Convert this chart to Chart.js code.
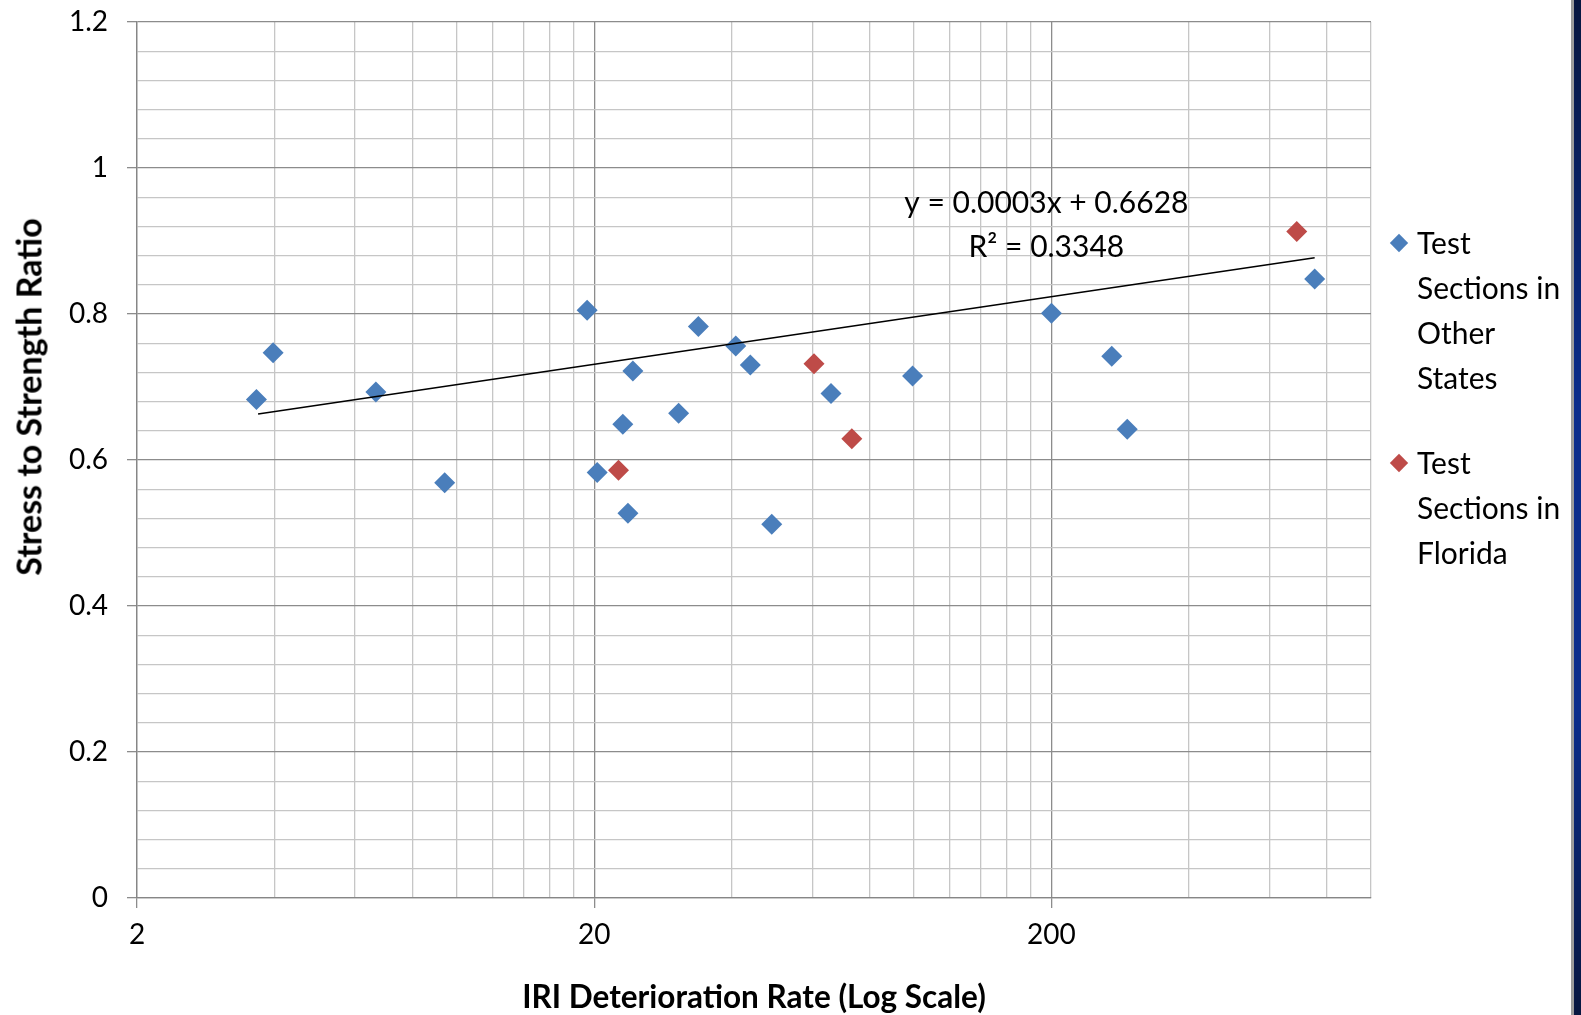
<!DOCTYPE html>
<html>
<head>
<meta charset="utf-8">
<script src="https://cdn.jsdelivr.net/npm/chart.js@4.4.1/dist/chart.umd.min.js"></script>
<style>
body { margin: 0; background: #fff; overflow: hidden; font-family: Lato, sans-serif; }
#wrap { position: relative; width: 1581px; height: 1015px; }
#ytitle { position: absolute; left: 28px; top: 397px; transform: translate(-50%, -50%) rotate(-90deg); font: bold 34px Lato; white-space: nowrap; color: #000; }
.leg { position: absolute; left: 1417px; font: 30px Lato; line-height: 45px; color: #000; }
.dia { position: absolute; width: 13px; height: 13px; transform: translate(-50%, -50%) rotate(45deg); }
#edge { position: absolute; left: 1571px; top: 0; width: 3px; height: 1015px; background: #9a9a9a; }
#navy { position: absolute; left: 1574px; top: 0; width: 7px; height: 1015px; background: linear-gradient(#07163f, #0b2d8c 40%, #0b2d8c 70%, #07163f); }
</style>
</head>
<body>
<div id="wrap">
<canvas id="myChart" width="1581" height="1015"></canvas>
<div id="ytitle">Stress to Strength Ratio</div>
<div class="dia" style="left:1399px;top:243px;background:#4a7ebb"></div>
<div class="leg" style="top:220px">Test<br>Sections in<br>Other<br>States</div>
<div class="dia" style="left:1399px;top:463px;background:#be4b48"></div>
<div class="leg" style="top:440px">Test<br>Sections in<br>Florida</div>
<div id="edge"></div>
<div id="navy"></div>
</div>
<script>
/* Data: Test Sections in Other States */
var otherX = [3.65, 3.97, 6.66, 9.42, 19.3, 20.3, 23.1, 23.7, 24.3, 30.6, 33.8, 40.8, 43.9, 48.9, 65.9, 99.4, 200, 271, 293, 753];
var otherY = [0.683, 0.747, 0.693, 0.569, 0.805, 0.583, 0.649, 0.527, 0.722, 0.664, 0.783, 0.756, 0.730, 0.512, 0.691, 0.715, 0.801, 0.742, 0.642, 0.848];
/* Data: Test Sections in Florida */
var floridaX = [22.6, 60.5, 73.2, 688];
var floridaY = [0.586, 0.732, 0.629, 0.913];
/* Trendline end points */
var trendX = [3.68, 753];
var trendY = [0.663, 0.877];
/* Axis ticks */
var xMajor = [2, 20, 200];
var xGrid = [2, 4, 6, 8, 10, 12, 14, 16, 18, 20, 40, 60, 80, 100, 120, 140, 160, 180, 200, 400, 600, 800, 1000];
var yLabels = [0, 0.2, 0.4, 0.6, 0.8, 1, 1.2];
var yMinorStep = 0.04;
var eqText = ['y = 0.0003x + 0.6628', 'R\u00b2 = 0.3348'];
/* End Data */

function toPoints(xs, ys) {
    var pts = [];
    for (let i = 0; i < xs.length; i++) {
        pts.push({x: xs[i], y: ys[i]});
    }
    return pts;
}

function isYMajor(v) {
    for (let i = 0; i < yLabels.length; i++) {
        if (Math.abs(yLabels[i] - v) < 1e-6) return true;
    }
    return false;
}

var gridMinor = '#c6c6c6';
var gridMajor = '#8c8c8c';

/* Equation label */
var equationPlugin = {
    id: 'equation',
    afterDatasetsDraw: function(chart) {
        var ctx = chart.ctx;
        var xs = chart.scales.x;
        var ys = chart.scales.y;
        ctx.save();
        ctx.font = '30px Lato';
        ctx.fillStyle = '#000';
        ctx.textAlign = 'center';
        ctx.textBaseline = 'alphabetic';
        ctx.fillText(eqText[0], xs.getPixelForValue(195), ys.getPixelForValue(0.938));
        ctx.fillText(eqText[1], xs.getPixelForValue(195), ys.getPixelForValue(0.878));
        ctx.restore();
    }
};

const config = {
    type: 'scatter',
    data: {
        datasets: [
            {
                label: 'Linear (Test Sections)',
                data: toPoints(trendX, trendY),
                showLine: true,
                borderColor: '#000',
                borderWidth: 1.5,
                pointRadius: 0
            },
            {
                label: 'Test Sections in Other States',
                data: toPoints(otherX, otherY),
                pointStyle: 'rectRot',
                pointRadius: 10.5,
                backgroundColor: '#4a7ebb',
                borderColor: '#4a7ebb',
                borderWidth: 0
            },
            {
                label: 'Test Sections in Florida',
                data: toPoints(floridaX, floridaY),
                pointStyle: 'rectRot',
                pointRadius: 10.5,
                backgroundColor: '#be4b48',
                borderColor: '#be4b48',
                borderWidth: 0
            }
        ]
    },
    options: {
        responsive: false,
        animation: false,
        devicePixelRatio: 1,
        layout: { padding: { left: 0, right: 210, top: 22, bottom: 0 } },
        plugins: {
            legend: { display: false },
            tooltip: { enabled: false }
        },
        scales: {
            x: {
                type: 'logarithmic',
                min: 2,
                max: 1000,
                afterBuildTicks: function(scale) {
                    scale.ticks = xGrid.map(function(v) { return {value: v}; });
                },
                afterFit: function(scale) { scale.height = 117; },
                ticks: {
                    autoSkip: false,
                    maxRotation: 0,
                    padding: 10,
                    color: '#000',
                    font: { family: 'Lato', size: 28 },
                    callback: function(v) { return xMajor.indexOf(v) >= 0 ? String(v) : ''; }
                },
                grid: {
                    lineWidth: 1.3,
                    tickLength: 10,
                    color: function(c) { return c.tick && xMajor.indexOf(c.tick.value) >= 0 ? gridMajor : gridMinor; },
                    tickColor: function(c) { return c.tick && xMajor.indexOf(c.tick.value) >= 0 ? gridMajor : 'rgba(0,0,0,0)'; }
                },
                border: { color: '#868686', width: 1.3 },
                title: {
                    display: true,
                    text: 'IRI Deterioration Rate (Log Scale)',
                    color: '#000',
                    font: { family: 'Lato', size: 31.5, weight: 'bold', lineHeight: 1.1 },
                    padding: { top: 0, bottom: 0 }
                }
            },
            y: {
                type: 'linear',
                min: 0,
                max: 1.2,
                afterBuildTicks: function(scale) {
                    var t = [];
                    for (let i = 0; i <= 30; i++) {
                        t.push({value: Math.round(i * yMinorStep * 100) / 100});
                    }
                    scale.ticks = t;
                },
                afterFit: function(scale) {
                    scale.width = 137;
                    scale.paddingTop = 0;
                    scale.paddingBottom = 0;
                },
                ticks: {
                    autoSkip: false,
                    padding: 19,
                    color: '#000',
                    font: { family: 'Lato', size: 28 },
                    callback: function(v) { return isYMajor(v) ? String(Number(v.toFixed(1))) : ''; }
                },
                grid: {
                    lineWidth: 1.3,
                    tickLength: 10,
                    color: function(c) { return c.tick && isYMajor(c.tick.value) ? gridMajor : gridMinor; },
                    tickColor: function(c) { return c.tick && isYMajor(c.tick.value) ? gridMajor : 'rgba(0,0,0,0)'; }
                },
                border: { color: '#868686', width: 1.3 }
            }
        }
    },
    plugins: [equationPlugin]
};

var myChart = new Chart(
    document.getElementById('myChart'),
    config
);
</script>
</body>
</html>
